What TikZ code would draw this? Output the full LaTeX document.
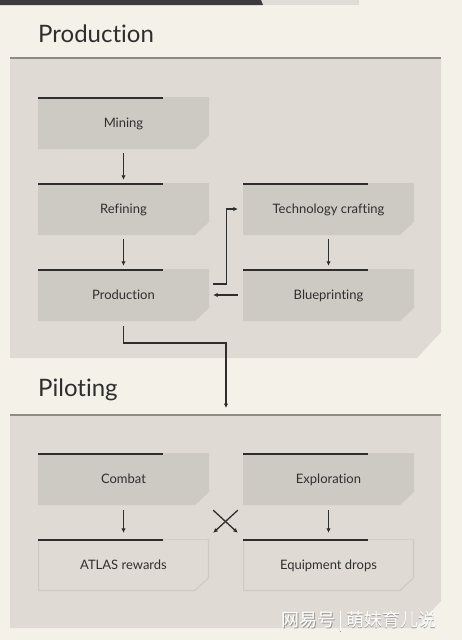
\documentclass[tikz,border=0pt]{standalone}
\usepackage{fontspec}
\setmainfont{Lato}[Ligatures=NoCommon]
\newfontfamily\cjkfont{Noto Sans CJK SC}
\usetikzlibrary{arrows.meta}
\definecolor{bgc}{HTML}{F4F1E9}
\definecolor{panelc}{HTML}{DFDBD4}
\definecolor{panelline}{HTML}{8E8B85}
\definecolor{boxc}{HTML}{CDCAC4}
\definecolor{linec}{HTML}{2E2E2E}
\definecolor{txtc}{HTML}{2F2F2F}
\definecolor{outc}{HTML}{CFCBC4}
\definecolor{barc}{HTML}{3B3A3E}
\definecolor{barl}{HTML}{E0DDD6}
\tikzset{
  stagebox/.style={minimum width=171pt, minimum height=52pt, inner sep=0pt,
    text height=10pt, text depth=1.2pt,
    font=\fontsize{13}{15}\selectfont, text=txtc,
    path picture={
      \fill[boxc] (path picture bounding box.north west) -- (path picture bounding box.north east)
        -- ([yshift=13pt]path picture bounding box.south east)
        -- ([xshift=-14pt]path picture bounding box.south east)
        -- (path picture bounding box.south west) -- cycle;
      \draw[linec, line width=1.6pt] ([yshift=-0.8pt]path picture bounding box.north west) -- ++(125pt,0);
    }},
  outbox/.style={minimum width=171pt, minimum height=52pt, inner sep=0pt,
    text height=10pt, text depth=1.2pt,
    font=\fontsize{13}{15}\selectfont, text=txtc,
    path picture={
      \draw[outc, line width=1.2pt] ([xshift=0.6pt]path picture bounding box.north west) -- ([xshift=-0.6pt]path picture bounding box.north east)
        -- ([xshift=-0.6pt,yshift=13pt]path picture bounding box.south east)
        -- ([xshift=-14pt,yshift=0.6pt]path picture bounding box.south east)
        -- ([xshift=0.6pt,yshift=0.6pt]path picture bounding box.south west) -- cycle;
      \draw[linec, line width=1.6pt] ([yshift=-0.8pt]path picture bounding box.north west) -- ++(125pt,0);
    }},
  arr/.style={linec, line width=1.3pt, -{Latex[length=4.5pt,width=4.5pt]}},
  ttl/.style={anchor=base west, inner sep=0pt, text=linec, font=\fontsize{24}{27}\selectfont},
  wmark/.style={anchor=base west, inner sep=0pt, font=\cjkfont\fontsize{18}{20}\selectfont},
}
\begin{document}
\begin{tikzpicture}[x=1pt,y=-1pt]
\useasboundingbox (0,0) rectangle (462,640);
\fill[bgc] (0,0) rectangle (462,640);
% top bar
\fill[barl] (0,0) rectangle (359,5);
\fill[barc] (0,0) -- (261,0) -- (263,5) -- (0,5) -- cycle;
% panels
\fill[panelc] (10,58) -- (441,58) -- (441,332) -- (417,358) -- (10,358) -- cycle;
\draw[panelline, line width=2pt] (10,58) -- (441,58);
\fill[panelc] (10,415) -- (441,415) -- (441,601) -- (415,628) -- (10,628) -- cycle;
\draw[panelline, line width=2pt] (10,415) -- (441,415);
% titles
\node[ttl] (t1) at (38,42) {Production};
\node[ttl] (t2) at (38,396) {Piloting};
% boxes
\node[stagebox] (mining) at (123.5,123) {Mining};
\node[stagebox] (refining) at (123.5,209) {Refining};
\node[stagebox] (production) at (123.5,295) {Production};
\node[stagebox] (tech) at (328.5,209) {Technology crafting};
\node[stagebox] (blue) at (328.5,295) {Blueprinting};
\node[stagebox] (combat) at (123.5,479) {Combat};
\node[stagebox] (explo) at (328.5,479) {Exploration};
\node[outbox] (atlas) at (123.5,565) {ATLAS rewards};
\node[outbox] (equip) at (328.5,565) {Equipment drops};
\coordinate (pilotin) at (226,408);
% arrows
\draw[arr, shorten <=4pt, shorten >=3pt] (mining) -- (refining);
\draw[arr, shorten <=4pt, shorten >=3pt] (refining) -- (production);
\draw[arr, shorten <=4pt, shorten >=3pt] (tech) -- (blue);
\draw[arr] ([xshift=-5pt]blue.west) -- ([xshift=4pt]production.east);
\draw[arr] ([xshift=4pt,yshift=11pt]production.east) -- ++(13,0) |- ([xshift=-5pt]tech.west);
\draw[arr] ([yshift=-5pt]production.south) |- (226,343) -- (pilotin);
\draw[arr, shorten <=5pt, shorten >=6pt] (combat) -- (atlas);
\draw[arr, shorten <=5pt, shorten >=6pt] (explo) -- (equip);
\draw[arr] ([xshift=4pt,yshift=-5pt]combat.south east) -- ([xshift=-5pt,yshift=6pt]equip.north west);
\draw[arr] ([xshift=-5pt,yshift=-5pt]explo.south west) -- ([xshift=4pt,yshift=6pt]atlas.north east);
% watermark
\node[wmark, text=black!40] (wm0) at (281.8,627.3) {网易号\,|\,萌妹育儿说};
\node[wmark, text=white] (wm) at (281,626.5) {网易号\,|\,萌妹育儿说};
\end{tikzpicture}
\end{document}
